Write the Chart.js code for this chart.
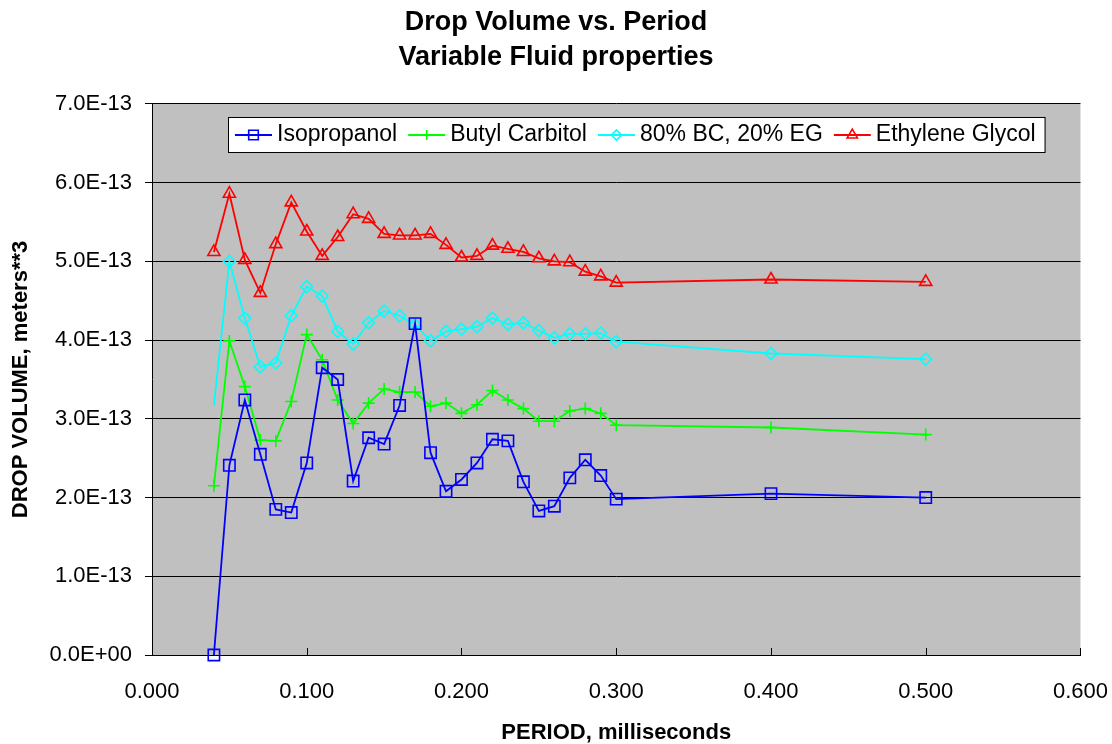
<!DOCTYPE html>
<html>
<head>
<meta charset="utf-8">
<title>Drop Volume vs. Period</title>
<script src="https://cdn.jsdelivr.net/npm/chart.js@4"></script>
<style>
    body { margin: 0; background: #fff; }
    #chart { display: block; }
</style>
</head>
<body>
<canvas id="chart" width="1112" height="744"></canvas>
<script>
// period in milliseconds
const periods = [0.04, 0.05, 0.06, 0.07, 0.08, 0.09, 0.10, 0.11, 0.12, 0.13, 0.14, 0.15, 0.16, 0.17,
    0.18, 0.19, 0.20, 0.21, 0.22, 0.23, 0.24, 0.25, 0.26, 0.27, 0.28, 0.29, 0.30, 0.40, 0.50];

// drop volume, in units of 1E-13 meters**3
const isopropanol = [0.00, 2.41, 3.24, 2.55, 1.85, 1.81, 2.44, 3.65, 3.50, 2.21, 2.76, 2.68, 3.17, 4.21,
    2.57, 2.08, 2.23, 2.44, 2.74, 2.72, 2.20, 1.83, 1.89, 2.25, 2.48, 2.28, 1.98, 2.05, 2.00];
const butylCarbitol = [2.15, 3.99, 3.41, 2.73, 2.72, 3.22, 4.07, 3.75, 3.24, 2.94, 3.20, 3.38, 3.34, 3.34,
    3.16, 3.20, 3.07, 3.18, 3.36, 3.24, 3.13, 2.97, 2.97, 3.10, 3.13, 3.07, 2.92, 2.89, 2.80];
const bcEgMix = [3.17, 5.00, 4.28, 3.66, 3.71, 4.31, 4.68, 4.56, 4.11, 3.95, 4.22, 4.37, 4.31, 4.20,
    3.99, 4.11, 4.14, 4.17, 4.28, 4.20, 4.22, 4.12, 4.03, 4.08, 4.08, 4.09, 3.98, 3.83, 3.76];
const ethyleneGlycol = [5.12, 5.86, 5.02, 4.60, 5.22, 5.75, 5.38, 5.07, 5.31, 5.60, 5.54, 5.35, 5.33, 5.33,
    5.35, 5.21, 5.05, 5.07, 5.20, 5.16, 5.12, 5.04, 5.00, 4.99, 4.87, 4.81, 4.73, 4.77, 4.74];

const seriesNames = ['Isopropanol', 'Butyl Carbitol', '80% BC, 20% EG', 'Ethylene Glycol'];
const xTickLabels = ['0.000', '0.100', '0.200', '0.300', '0.400', '0.500', '0.600'];
const yTickLabels = ['0.0E+00', '1.0E-13', '2.0E-13', '3.0E-13', '4.0E-13', '5.0E-13', '6.0E-13', '7.0E-13'];

const FONT = '"Liberation Sans", Arial, sans-serif';

function toPoints(values) {
    return values.map(function(v, i) { return { x: periods[i], y: v }; });
}

function makeDataset(label, values, color, style, radius) {
    return {
        label: label,
        data: toPoints(values),
        borderColor: color,
        backgroundColor: color,
        borderWidth: 1.8,
        pointStyle: style,
        pointRadius: radius,
        pointBorderColor: color,
        pointBackgroundColor: 'rgba(0,0,0,0)',
        pointBorderWidth: 1.6,
        tension: 0,
        clip: false
    };
}

const datasets = [
    makeDataset(seriesNames[0], isopropanol, '#0000FF', 'rect', 8),
    makeDataset(seriesNames[1], butylCarbitol, '#00FF00', 'cross', 6),
    // first point of this series has no marker in the original
    makeDataset(seriesNames[2], bcEgMix, '#00FFFF', 'rectRot', function(ctx) { return ctx.dataIndex === 0 ? 0 : 6; }),
    makeDataset(seriesNames[3], ethyleneGlycol, '#FF0000', 'triangle', 7)
];

// grey plot area
const plotBackground = {
    id: 'plotBackground',
    beforeDraw: function(chart) {
        const a = chart.chartArea;
        const ctx = chart.ctx;
        ctx.save();
        ctx.fillStyle = '#C0C0C0';
        ctx.fillRect(a.left, a.top, a.right - a.left, a.bottom - a.top);
        ctx.restore();
    }
};

// x-axis tick marks point inwards
const innerTicks = {
    id: 'innerTicks',
    beforeDatasetsDraw: function(chart) {
        const xs = chart.scales.x;
        const a = chart.chartArea;
        const ctx = chart.ctx;
        ctx.save();
        ctx.strokeStyle = '#000';
        ctx.lineWidth = 1;
        xs.ticks.forEach(function(t) {
            const px = Math.round(xs.getPixelForValue(t.value)) + 0.5;
            ctx.beginPath();
            ctx.moveTo(px, a.bottom);
            ctx.lineTo(px, a.bottom - 7);
            ctx.stroke();
        });
        ctx.restore();
    }
};

// boxed legend inside the plot, Excel style (line with marker)
const boxLegend = {
    id: 'boxLegend',
    afterDraw: function(chart) {
        const ctx = chart.ctx;
        const a = chart.chartArea;
        const left = a.left + 76;
        const top = a.top + 13;
        const height = 35;
        const cy = top + height / 2 + 0.5;
        ctx.save();
        ctx.font = '23px ' + FONT;
        let x = left + 7;
        const items = [];
        chart.data.datasets.forEach(function(ds) {
            const w = ctx.measureText(ds.label).width;
            items.push({ ds: ds, x: x, w: w });
            x += 42 + w + 11;
        });
        const right = x - 11 + 9;
        ctx.fillStyle = '#fff';
        ctx.fillRect(left, top, right - left, height);
        ctx.strokeStyle = '#000';
        ctx.lineWidth = 1;
        ctx.strokeRect(left + 0.5, top + 0.5, right - left, height);
        items.forEach(function(it) {
            const ds = it.ds;
            ctx.strokeStyle = ds.borderColor;
            ctx.lineWidth = 1.8;
            ctx.beginPath();
            ctx.moveTo(it.x, cy);
            ctx.lineTo(it.x + 37, cy);
            ctx.stroke();
            const r = typeof ds.pointRadius === 'function' ? 6 : ds.pointRadius;
            ctx.fillStyle = 'rgba(0,0,0,0)';
            ctx.lineWidth = 1.6;
            Chart.helpers.drawPoint(ctx, {
                pointStyle: ds.pointStyle,
                radius: r * 0.85,
                borderWidth: 1.6,
                rotation: 0
            }, it.x + 18.5, cy);
            ctx.fillStyle = '#000';
            ctx.textBaseline = 'middle';
            ctx.textAlign = 'left';
            ctx.fillText(ds.label, it.x + 42, cy);
        });
        ctx.restore();
    }
};

Chart.defaults.font.family = FONT;
Chart.defaults.color = '#000';

const ctx = document.getElementById('chart').getContext('2d');
const dropChart = new Chart(ctx, {
    type: 'line',
    data: { datasets: datasets },
    plugins: [plotBackground, innerTicks, boxLegend],
    options: {
        responsive: false,
        devicePixelRatio: 1,
        animation: false,
        layout: { padding: { left: 0, right: 0, top: 0, bottom: 0 } },
        plugins: {
            legend: { display: false },
            tooltip: { enabled: false },
            title: {
                display: true,
                text: ['Drop Volume vs. Period', 'Variable Fluid properties'],
                color: '#000',
                font: { size: 27, weight: 'bold', lineHeight: 1.296 },
                padding: { top: 5, bottom: 29 }
            }
        },
        scales: {
            x: {
                type: 'linear',
                min: 0,
                max: 0.6,
                // invisible outer ticks only push the labels down
                grid: { display: true, drawOnChartArea: false, drawTicks: true, tickLength: 20, tickColor: 'rgba(0,0,0,0)' },
                border: { display: true, color: '#000', width: 1 },
                ticks: {
                    stepSize: 0.1,
                    padding: 4,
                    maxRotation: 0,
                    font: { size: 22 },
                    callback: function(value, index) { return xTickLabels[index]; }
                },
                title: {
                    display: true,
                    text: 'PERIOD, milliseconds',
                    font: { size: 22, weight: 'bold' },
                    padding: { top: 0, bottom: -2 }
                },
                afterFit: function(scale) { scale.height = 89; }
            },
            y: {
                type: 'linear',
                min: 0,
                max: 7,
                grid: { color: '#000', lineWidth: 1, tickLength: 7, tickColor: '#000' },
                border: { display: true, color: '#000', width: 1 },
                ticks: {
                    stepSize: 1,
                    padding: 13,
                    font: { size: 22 },
                    callback: function(value, index) { return yTickLabels[index]; }
                },
                title: {
                    display: true,
                    text: 'DROP VOLUME, meters**3',
                    font: { size: 22, weight: 'bold' },
                    padding: { top: 8, bottom: 0 }
                },
                afterFit: function(scale) { scale.width = 152; }
            }
        }
    }
});
</script>
</body>
</html>
